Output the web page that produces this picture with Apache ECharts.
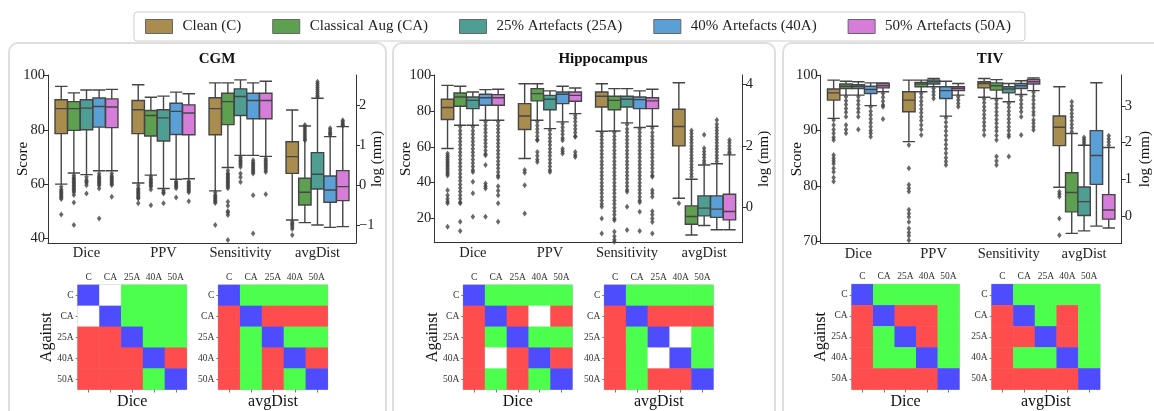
<!DOCTYPE html>
<html><head><meta charset="utf-8">
<script src="https://cdn.jsdelivr.net/npm/echarts@6/dist/echarts.min.js"></script>
<style>html,body{margin:0;padding:0;background:#fff}#c{width:1154px;height:411px}</style>
</head><body><div id="c"></div>
<script>
// ---------------- DATA ----------------
const categories = ['Dice', 'PPV', 'Sensitivity', 'avgDist'];
const models = ['Clean (C)', 'Classical Aug (CA)', '25% Artefacts (25A)', '40% Artefacts (40A)', '50% Artefacts (50A)'];
const modelShort = ['C', 'CA', '25A', '40A', '50A'];
const panelTitles = ['CGM', 'Hippocampus', 'TIV'];
const heatmapMetrics = ['Dice', 'avgDist'];

// box stats [lowWhisker, Q1, median, Q3, highWhisker]; rows = models, cols = metrics (avgDist in log mm)
const cgmBoxes = [
  [[60.0, 78.6, 87.8, 91.1, 96.0], [60.4, 78.6, 87.4, 90.8, 96.6], [57.5, 78.2, 87.8, 91.8, 97.3], [-0.875, 0.29, 0.71, 1.08, 1.875]],
  [[64.1, 79.8, 87.8, 90.4, 93.6], [63.3, 77.7, 85.3, 87.1, 92.0], [66.1, 81.9, 90.4, 93.5, 97.3], [-0.94, -0.5, -0.18, 0.17, 1.475]],
  [[63.5, 80.0, 88.0, 91.1, 94.7], [58.4, 75.9, 84.4, 87.4, 92.4], [70.6, 85.3, 92.3, 95.1, 98.4], [-1.0, -0.1, 0.27, 0.81, 2.17]],
  [[64.9, 81.0, 88.6, 91.7, 94.7], [61.8, 78.3, 86.8, 89.8, 93.9], [70.6, 84.1, 90.8, 93.5, 97.3], [-1.06, -0.43, -0.125, 0.225, 1.21]],
  [[64.9, 80.8, 88.4, 91.4, 94.9], [62.0, 78.2, 86.2, 89.2, 93.3], [70.2, 84.1, 90.8, 93.5, 97.9], [-1.04, -0.39, -0.04, 0.36, 1.46]]
];
const hippoBoxes = [
  [[59.1, 75.3, 82.0, 86.6, 94.4], [53.5, 69.7, 77.3, 84.2, 95.3], [68.7, 82.3, 88.3, 90.7, 95.3], [0.30, 2.0, 2.63, 3.19, 4.05]],
  [[72.1, 82.7, 87.9, 90.1, 93.9], [74.9, 85.7, 89.8, 92.6, 95.3], [68.9, 80.8, 86.0, 88.3, 92.6], [-0.89, -0.54, -0.29, 0.054, 0.92]],
  [[72.1, 81.4, 86.0, 87.9, 90.7], [70.2, 80.8, 86.6, 88.8, 91.3], [73.4, 82.3, 86.6, 88.3, 92.6], [-0.58, -0.27, -0.02, 0.38, 1.38]],
  [[74.9, 83.3, 87.5, 89.4, 92.0], [74.0, 84.2, 89.4, 90.7, 93.9], [70.8, 81.4, 86.4, 87.9, 91.3], [-0.72, -0.32, -0.05, 0.38, 1.42]],
  [[74.9, 83.3, 87.5, 89.2, 92.2], [78.6, 85.5, 88.8, 90.7, 92.9], [71.5, 81.4, 85.7, 87.5, 92.2], [-0.72, -0.40, -0.13, 0.43, 1.71]]
];
const tivBoxes = [
  [[92.2, 95.5, 96.8, 97.5, 99.1], [88.0, 93.4, 95.5, 97.0, 99.1], [96.0, 97.7, 98.5, 98.8, 99.4], [0.78, 1.92, 2.42, 2.73, 3.53]],
  [[96.4, 97.6, 98.0, 98.4, 98.9], [97.0, 97.9, 98.4, 98.7, 99.1], [95.8, 97.3, 98.1, 98.6, 99.2], [-0.48, 0.11, 0.64, 1.18, 2.25]],
  [[96.4, 97.6, 98.0, 98.3, 98.8], [97.9, 98.4, 98.8, 99.1, 99.4], [95.2, 96.8, 97.5, 97.9, 98.5], [-0.41, 0.01, 0.39, 0.79, 1.93]],
  [[94.5, 96.7, 97.4, 98.0, 98.6], [92.6, 95.8, 97.2, 97.9, 98.9], [96.5, 97.6, 98.1, 98.5, 99.0], [-0.28, 0.86, 1.65, 2.33, 3.64]],
  [[97.0, 97.7, 98.1, 98.5, 98.6], [96.4, 97.2, 97.6, 97.9, 98.5], [97.2, 98.4, 98.8, 99.2, 99.5], [-0.33, -0.09, 0.16, 0.58, 1.87]]
];

// outliers; rows = models, cols = metrics
const cgmOutliers = [
  [[59, 58, 57.5, 57, 56.5, 56, 55.5, 55, 54.5, 48.8], [59.6, 58.5, 58, 57.5, 57, 56.5, 56, 55.5, 55, 54.7, 52.9], [57, 56, 55.5, 55, 54.5, 54, 53.5, 53, 44.9], [-0.92, -0.96, -1.0, -1.05, -1.1, -1.25]],
  [[63.3, 62.5, 62, 61.5, 61, 60.5, 60, 59.5, 59, 58.5, 58, 57.5, 57, 56, 53.2, 44.9], [62.8, 62, 61.5, 61, 60.5, 60, 59.5, 59, 58, 52.2], [65, 64, 63.5, 63, 62.5, 62, 61.5, 61, 60.5, 60, 59.5, 59, 58.5, 53.5, 52, 50, 49.5, 48.6, 39.4], [1.5, 1.45, 1.4, 1.35, 1.3, 1.25, 1.2, 1.15, 1.12]],
  [[62.6, 61.5, 61, 60.5, 59.6, 56.5], [57.6, 57, 56.5, 52.9], [70, 69.4, 68.8, 68.2, 67.6, 67, 66.3, 63.9, 62.5, 60.8], [2.58, 2.53, 2.48, 2.43, 2.38, 2.33, 2.28, 2.23, 2.2]],
  [[63.9, 63, 62.5, 62, 61.5, 61, 60.5, 60, 59.5, 58.4, 47.3], [61, 60.5, 60, 59.5, 59, 58.5, 55.1], [68.8, 68, 67.4, 66.8, 66.2, 65.6, 65, 64.5, 63.9, 55.9, 41.8], [1.42, 1.37, 1.32, 1.28, 1.25]],
  [[63.9, 63, 62.5, 62, 61.5, 61, 60.5, 60, 59.7, 55.3], [61, 60.5, 60, 59.5, 59, 58.5, 58, 57.5, 57, 53.7], [69.4, 68.8, 68.2, 67.6, 67, 66.4, 65.8, 65.1, 64.5, 56.3], [1.62, 1.58, 1.54, 1.5, 1.48]]
];
const hippoOutliers = [
  [[56.3, 55, 54, 53, 52, 51, 50, 49, 48, 47, 46, 45, 44, 35.8, 33, 31, 29.5, 28.4, 15.3], [47, 45.5, 38.6, 22.8], [67.8, 66, 64, 62, 60, 58, 56, 54, 52, 50, 48, 46, 44, 42, 40, 38, 36, 34, 32, 30, 28, 26.5, 20, 11.6], [0.14]],
  [[71.2, 69, 67, 65, 63, 61, 59, 57, 55, 53, 51, 49, 47, 45, 43, 41, 39, 37, 35, 33, 31, 29, 28.4, 18.1, 12.9], [74, 72, 70, 68, 66, 64, 63.7, 57.2, 55, 53, 51.6], [68, 66, 64, 62, 60, 58, 56, 54, 52, 50, 48, 46, 44, 42, 40, 38, 36, 34, 32, 30, 28, 26, 24, 22, 20, 19, 12.5, 10, 8, 7], [2.5, 2.4, 2.3, 2.2, 2.1, 2.0, 1.9, 1.8, 1.7, 1.6, 1.5, 1.4, 1.3, 1.2, 1.1, 1.0]],
  [[71.2, 69, 67, 65, 63, 61, 59, 57, 55, 53, 51, 49, 47, 46, 40.5, 34, 20.9], [69.3, 67, 65, 63, 61, 59, 57, 55, 53, 51, 49, 47, 46], [72.5, 70, 68, 66, 64, 62, 60, 58, 56, 54, 52, 50, 48, 46, 44, 42, 40, 38, 36, 34.9, 26.5, 13.5], [2.36, 1.92, 1.82, 1.72, 1.62, 1.52, 1.44]],
  [[74, 72, 70, 68, 66, 64, 62, 60, 58, 56, 55.3, 49.8, 39.5, 38, 36.7, 20.9], [73, 71, 69, 67, 65, 63.7, 59, 57.5, 56.3], [70, 68, 66, 64, 62, 60, 58, 56, 54, 52, 50, 48, 46, 44, 42, 40, 38, 36, 34, 32, 30, 29, 23.7, 12.9], [2.84, 2.7, 2.6, 2.5, 2.4, 2.3, 2.2, 2.1, 2.0, 1.9, 1.8, 1.7, 1.6, 1.49]],
  [[74, 72, 70, 68, 66, 64, 62, 60, 58, 56, 54, 52, 50, 48, 46, 44, 43, 38, 35.5, 33, 28.4, 18.1], [77.7, 76, 74, 72, 70, 68, 66, 65.6, 57.2, 55.5, 54.4], [70.6, 68, 66, 64, 62, 60, 58, 56, 54, 52, 50, 48, 46, 44, 43.3, 35.8, 34, 32.1, 24, 22, 20, 18, 11.6], [2.19, 2.1, 2.0, 1.9, 1.8, 1.76]]
];
const tivOutliers = [
  [[91.9, 91, 90.2, 89.5, 88.8, 88.3, 85.6, 85, 84.5, 84, 83.2, 82.5, 81.5, 80.8], [87.4, 83.2, 80.2, 79.6, 79, 75.7, 75, 74.4, 73.5, 72.3, 71.6, 71, 70.2], [95.7, 95, 94.3, 93.6, 92.9, 92.2, 91.5, 90.8, 90.1, 89.2], [0.66, 0.59, 0.52, -0.07, -0.53]],
  [[96.1, 95.4, 94.7, 94, 93.3, 92.5, 91, 90.2, 89.5], [96.7, 96, 95.3, 94.6, 93.9, 93.2, 92.5, 91.8, 91, 90.2, 89.2], [95.5, 94.8, 94.1, 93.4, 92.7, 92, 91.3, 90.6, 89.9, 89.1, 88.3, 85.3, 84.5, 83.8], [3.12, 3.0, 2.9, 2.8, 2.7, 2.6, 2.5, 2.4, 2.3]],
  [[96.1, 95.4, 94.7, 94, 93.3, 92.5, 90.2], [97.6, 97, 96.4, 95.8], [94.9, 94.2, 93.5, 92.8, 92.1, 91.4, 90.7, 90, 89.3, 88.9, 85.3], [2.14, 2.08, 2.02, 1.96]],
  [[94.3, 93.5, 92.8, 92.1, 91.4, 90.7, 90, 89.5, 88.9], [92.3, 91.5, 90.7, 89.9, 89.1, 88.3, 87.5, 86.7, 85.9, 85.1, 84.4, 83.8], [96.2, 95.5, 94.8, 94.1, 93.4, 92.5, 89.2], []],
  [[96.7, 96, 95.3, 94.6, 94.3, 92.1], [96.1, 95.5, 94.9, 94.3], [96.9, 96.2, 95.5, 94.8, 94.1, 93.4, 92.8, 91.9, 91.3, 90.7, 90.1], [2.19, 2.1, 2.02, 1.93]]
];

// tick labels
const cgmScoreTicks = [40, 60, 80, 100];
const cgmLogTicks = [-1, 0, 1, 2];
const hippoScoreTicks = [20, 40, 60, 80, 100];
const hippoLogTicks = [0, 2, 4];
const tivScoreTicks = [70, 80, 90, 100];
const tivLogTicks = [0, 1, 2, 3];

// pairwise significance: 2 = self, 1 = better, -1 = worse, 0 = no difference; rows = against
const cgmDiceSig = [[2, 0, 1, 1, 1], [0, 2, 1, 1, 1], [-1, -1, 2, 1, 1], [-1, -1, -1, 2, -1], [-1, -1, -1, 1, 2]];
const cgmDistSig = [[2, 1, 1, 1, 1], [-1, 2, -1, -1, -1], [-1, 1, 2, 1, 1], [-1, 1, -1, 2, -1], [-1, 1, -1, 1, 2]];
const hippoDiceSig = [[2, 1, 1, 1, 1], [-1, 2, -1, 0, -1], [-1, 1, 2, 1, 1], [-1, 0, -1, 2, -1], [-1, 1, -1, 1, 2]];
const hippoDistSig = [[2, 1, 1, 1, 1], [-1, 2, -1, -1, -1], [-1, 1, 2, 0, 1], [-1, 1, 0, 2, 1], [-1, 1, -1, -1, 2]];
const tivDiceSig = [[2, 1, 1, 1, 1], [-1, 2, -1, -1, 1], [-1, 1, 2, -1, 1], [-1, 1, 1, 2, 1], [-1, -1, -1, -1, 2]];
const tivDistSig = [[2, 1, 1, 1, 1], [-1, 2, 1, -1, 1], [-1, -1, 2, -1, 1], [-1, 1, 1, 2, 1], [-1, -1, -1, -1, 2]];

// ---------------- STYLE / LAYOUT ----------------
const FONT = 'Liberation Serif';
const colors = ['#a88d4f', '#5da04f', '#4f9e93', '#5b9fd7', '#d67cd9'];
const sigColors = { self: '#4d4dff', better: '#4dff4d', worse: '#ff4d4d', same: '#ffffff' };
const boxSpacingFrac = 0.164;
const axisColor = '#333';

const panels = [
  { boxes: cgmBoxes, out: cgmOutliers, sTicks: cgmScoreTicks, lTicks: cgmLogTicks, sig: [cgmDiceSig, cgmDistSig],
    grid: { left: 48, top: 75, width: 308, height: 168 }, yL: [38.3, 100.2], yR: [-1.45, 2.75], sGap: 17, lGap: 14,
    hm: [{ left: 77.7, top: 285, width: 109, height: 108.3 }, { left: 218.3, top: 285, width: 109.4, height: 108.3 }],
    frame: { x: 9, w: 377 }, titleX: 212 },
  { boxes: hippoBoxes, out: hippoOutliers, sTicks: hippoScoreTicks, lTicks: hippoLogTicks, sig: [hippoDiceSig, hippoDistSig],
    grid: { left: 434.3, top: 75, width: 308.4, height: 167.7 }, yL: [6.4, 100.2], yR: [-1.14, 4.3], sGap: 21, lGap: 14.3,
    hm: [{ left: 463.3, top: 285, width: 109, height: 109 }, { left: 604.3, top: 285, width: 109, height: 109 }],
    frame: { x: 393, w: 382 }, titleX: 598 },
  { boxes: tivBoxes, out: tivOutliers, sTicks: tivScoreTicks, lTicks: tivLogTicks, sig: [tivDiceSig, tivDistSig],
    grid: { left: 820.7, top: 75, width: 308, height: 168.3 }, yL: [69.64, 100.03], yR: [-0.75, 3.85], sGap: 16.5, lGap: 16.3,
    hm: [{ left: 851.7, top: 284.3, width: 107.6, height: 109 }, { left: 991.7, top: 284.3, width: 108.3, height: 109 }],
    frame: { x: 783, w: 400 }, titleX: 985 }
];

const fmtNum = v => (v < 0 ? '\u2212' + Math.abs(v) : String(v));

const grid = [], xAxis = [], yAxis = [], series = [], title = [], graphic = [];
const heatmapSeriesIdx = [];

panels.forEach((P, p) => {
  graphic.push({ type: 'rect', z: -10, shape: { x: P.frame.x, y: 43, width: P.frame.w, height: 420, r: 9 },
    style: { fill: 'none', stroke: '#dedede', lineWidth: 2 } });
  title.push({ text: panelTitles[p], left: P.titleX, top: 47, textAlign: 'center',
    textStyle: { fontFamily: FONT, fontWeight: 'bold', fontSize: 15, color: '#111' } });

  const gi = grid.length;
  grid.push(Object.assign({ containLabel: false }, P.grid));
  const xCat = xAxis.length;
  xAxis.push({ type: 'category', gridIndex: gi, data: categories, position: 'bottom',
    axisLine: { onZero: false, lineStyle: { color: axisColor, width: 1 } },
    axisTick: { alignWithLabel: true, length: 4, lineStyle: { color: axisColor } },
    axisLabel: { interval: 0, fontFamily: FONT, fontSize: 14.5, color: '#222', margin: 3 } });
  const xAlt = xAxis.length;
  xAxis.push({ type: 'category', gridIndex: gi, data: categories, show: false, axisLine: { onZero: false } });
  const xVal = xAxis.length;
  xAxis.push({ type: 'value', gridIndex: gi, min: -0.5, max: 3.5, show: false, axisLine: { onZero: false } });
  const yL = yAxis.length;
  yAxis.push({ type: 'value', gridIndex: gi, position: 'left', min: P.yL[0], max: P.yL[1],
    name: 'Score', nameLocation: 'middle', nameGap: P.sGap, nameRotate: 90, nameMoveOverlap: false,
    nameTextStyle: { fontFamily: FONT, fontSize: 15, color: '#111' },
    axisLine: { show: true, onZero: false, lineStyle: { color: axisColor } },
    axisTick: { show: true, length: 4, customValues: P.sTicks, lineStyle: { color: axisColor } },
    axisLabel: { customValues: P.sTicks, fontFamily: FONT, fontSize: 14.5, color: '#222', margin: 3 },
    splitLine: { show: false } });
  const yR = yAxis.length;
  yAxis.push({ type: 'value', gridIndex: gi, position: 'right', min: P.yR[0], max: P.yR[1],
    name: 'log (mm)', nameLocation: 'middle', nameGap: P.lGap, nameRotate: 90, nameMoveOverlap: false,
    nameTextStyle: { fontFamily: FONT, fontSize: 15, color: '#111' },
    axisLine: { show: true, onZero: false, lineStyle: { color: axisColor } },
    axisTick: { show: true, length: 4, customValues: P.lTicks, lineStyle: { color: axisColor } },
    axisLabel: { customValues: P.lTicks, formatter: fmtNum, fontFamily: FONT, fontSize: 14.5, color: '#222', margin: 3 },
    splitLine: { show: false } });

  models.forEach((name, k) => {
    const style = { color: colors[k], borderColor: '#454545', borderWidth: 1.4 };
    series.push({ type: 'boxplot', name, xAxisIndex: xCat, yAxisIndex: yL, boxWidth: [12.4, 12.4],
      encode: { x: 0, y: [1, 2, 3, 4, 5] },
      data: [0, 1, 2].map(m => [categories[m]].concat(P.boxes[k][m])),
      itemStyle: style, emphasis: { disabled: true } });
    series.push({ type: 'boxplot', name, xAxisIndex: xAlt, yAxisIndex: yR, boxWidth: [12.4, 12.4],
      encode: { x: 0, y: [1, 2, 3, 4, 5] },
      data: [[categories[3]].concat(P.boxes[k][3])],
      itemStyle: style, emphasis: { disabled: true } });
    const off = (k - 2) * boxSpacingFrac;
    const ptsL = [];
    [0, 1, 2].forEach(m => P.out[k][m].forEach(v => ptsL.push([m + off, v])));
    series.push({ type: 'scatter', name, xAxisIndex: xVal, yAxisIndex: yL, data: ptsL,
      symbol: 'diamond', symbolSize: [4.5, 6], itemStyle: { color: '#444' }, silent: true });
    series.push({ type: 'scatter', name, xAxisIndex: xVal, yAxisIndex: yR,
      data: P.out[k][3].map(v => [3 + off, v]),
      symbol: 'diamond', symbolSize: [4.5, 6], itemStyle: { color: '#444' }, silent: true });
  });

  P.hm.forEach((H, h) => {
    const hg = grid.length;
    grid.push(Object.assign({ show: true, borderColor: '#b4b4c4', borderWidth: 1, backgroundColor: 'transparent' }, H));
    const xt = xAxis.length;
    xAxis.push({ type: 'category', gridIndex: hg, data: modelShort, position: 'top',
      axisLine: { show: false }, axisTick: { show: false },
      axisLabel: { interval: 0, fontFamily: FONT, fontSize: 9.5, color: '#333', margin: 3 } });
    xAxis.push({ type: 'category', gridIndex: hg, data: modelShort, position: 'bottom',
      axisLine: { show: false }, axisTick: { show: true, alignWithLabel: true, interval: 0, length: 3, lineStyle: { color: '#777' } },
      axisLabel: { show: false },
      name: heatmapMetrics[h], nameLocation: 'middle', nameGap: 4.5, nameMoveOverlap: false,
      nameTextStyle: { fontFamily: FONT, fontSize: 16, color: '#111' } });
    const yt = yAxis.length;
    yAxis.push({ type: 'category', gridIndex: hg, data: modelShort, inverse: true,
      axisLine: { show: false }, axisTick: { show: true, alignWithLabel: true, interval: 0, length: 2, lineStyle: { color: '#777' } },
      axisLabel: { interval: 0, fontFamily: FONT, fontSize: 9.5, color: '#333', margin: 4 },
      name: h === 0 ? 'Against' : '', nameLocation: 'middle', nameGap: 23, nameRotate: 90, nameMoveOverlap: false,
      nameTextStyle: { fontFamily: FONT, fontSize: 16, color: '#111' } });
    const data = [];
    P.sig[h].forEach((row, r) => row.forEach((v, c) => data.push([c, r, v])));
    heatmapSeriesIdx.push(series.length);
    series.push({ type: 'heatmap', xAxisIndex: xt, yAxisIndex: yt, data, emphasis: { disabled: true } });
  });
});

const option = {
  animation: false,
  backgroundColor: '#fff',
  title, grid, xAxis, yAxis, series, graphic,
  legend: {
    left: 134, top: 12, padding: [7, 14, 7, 11], itemWidth: 27, itemHeight: 14, itemGap: 31,
    borderColor: '#cfcfcf', borderWidth: 1, borderRadius: 3,
    textStyle: { fontFamily: FONT, fontSize: 15, color: '#222', padding: [0, 0, 0, 5] },
    data: models.map((n, k) => ({ name: n, icon: 'rect', itemStyle: { color: colors[k], borderColor: '#666', borderWidth: 1 } }))
  },
  visualMap: {
    type: 'piecewise', show: false, dimension: 2, seriesIndex: heatmapSeriesIdx,
    pieces: [
      { value: 2, color: sigColors.self }, { value: 1, color: sigColors.better },
      { value: -1, color: sigColors.worse }, { value: 0, color: sigColors.same }
    ]
  }
};

const chart = echarts.init(document.getElementById('c'), null, { renderer: 'canvas' });
chart.setOption(option);
</script>
</body></html>
